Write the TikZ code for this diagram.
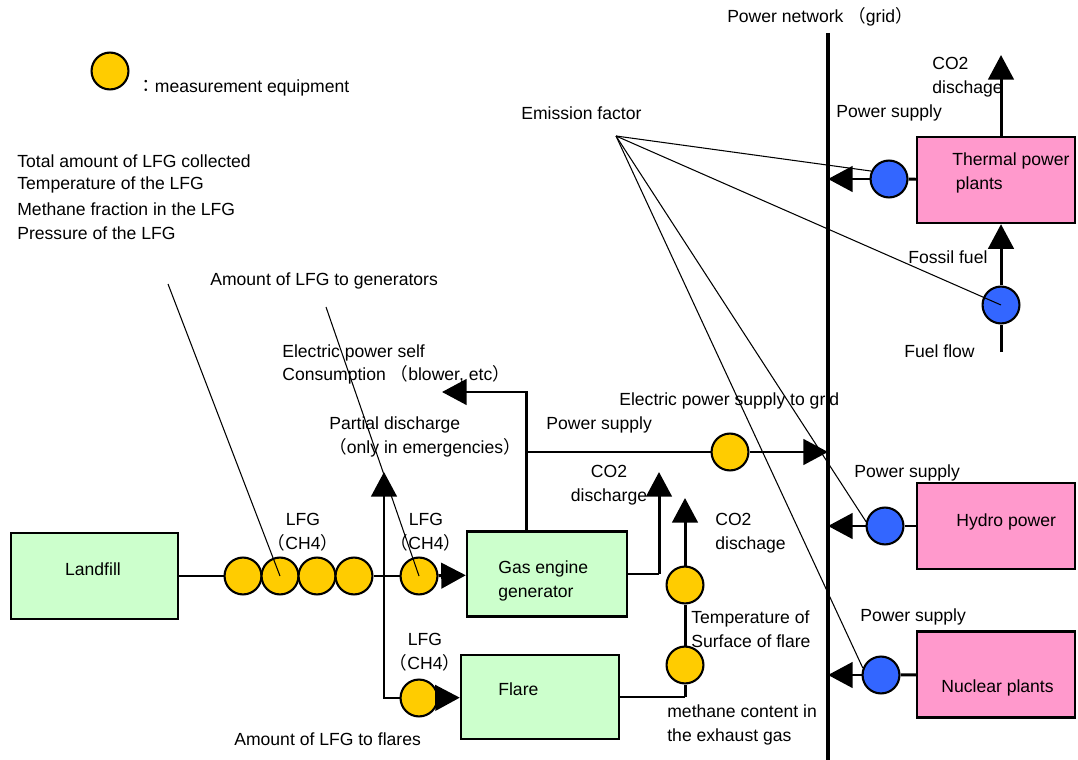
\documentclass[tikz,border=0pt]{standalone}
\usepackage{fontspec}
\setmainfont{Liberation Sans}
\newfontfamily\jpfont{Noto Sans CJK JP}
\usetikzlibrary{arrows.meta,calc}
\definecolor{meteryellow}{HTML}{FFCC00}
\definecolor{meterblue}{HTML}{3366FF}
\definecolor{lfggreen}{HTML}{CCFFCC}
\definecolor{plantpink}{HTML}{FF99CC}
\newcommand{\lpar}{{\jpfont （}}
\newcommand{\rpar}{{\jpfont ）}}
\tikzset{
  pipe/.style={line width=1.7pt},
  flow/.style={line width=1.7pt,-{Triangle[length=14pt,width=14.5pt]}},
  thin line/.style={line width=0.6pt},
  meas/.style={circle,draw,line width=1.2pt,fill=meteryellow,minimum size=21pt,inner sep=0pt},
  bmeas/.style={meas,fill=meterblue},
  sitebox/.style={draw,line width=1.4pt,fill=lfggreen,inner sep=0pt},
  plantbox/.style={sitebox,fill=plantpink,minimum width=3.16cm,minimum height=1.72cm},
  lbl/.style={anchor=west,align=left,inner sep=0pt,font=\fontsize{10}{13.6}\selectfont},
  clbl/.style={lbl,anchor=center,align=center}
}

\begin{document}
\begin{tikzpicture}[x=0.02cm,y=-0.02cm]
	\useasboundingbox (0,0) rectangle (1078,760);
	% legend and notes
	\node[meas] (key) at (110,71) {};
	\node[lbl] (keytext) at (137,88) {{\jpfont ：}measurement equipment};
	\foreach \t [count=\i] in {Total amount of LFG collected, Temperature of the LFG, Methane fraction in the LFG, Pressure of the LFG}
	{\node[lbl] (item\i) at (17,137+24*\i) {\t};}
	\node[lbl] (togen) at (210,281) {Amount of LFG to generators};
	\node[lbl] (tofl) at (234,739) {Amount of LFG to flares};
	\node[lbl] (selfc) at (282,364.5) {Electric power self\\Consumption \lpar blower, etc\rpar};
	\node[lbl] (partial) at (329,437) {Partial discharge\\\lpar only in emergencies\rpar};
	% landfill side
	\node[sitebox,minimum width=3.34cm,minimum height=1.72cm] (lf) at (94.5,576) {};
	\node[clbl] (lftext) at (93,569) {Landfill};
	\node[sitebox,minimum width=3.2cm,minimum height=1.7cm] (gas) at (547,574) {};
	\node[lbl] (gastext) at (498,581) {Gas engine\\generator};
	\node[sitebox,minimum width=3.16cm,minimum height=1.68cm] (fl) at (540,697) {};
	\node[lbl] (fltext) at (498,689) {Flare};
	\foreach \x [count=\i] in {243,280,317,354}
	{\node[meas] (m\i) at (\x,576) {};}
	\node[meas] (m5) at (419,576) {};
	\node[meas] (m6) at (419,698) {};
	\node[meas] (m7) at (730,452) {};
	\node[meas] (m8) at (685,585) {};
	\node[meas] (m9) at (685,665) {};
	\node[clbl] (lfg1) at (303,532) {LFG\\\lpar CH4\rpar};
	\node[clbl] (lfg2) at (426,532) {LFG\\\lpar CH4\rpar};
	\node[clbl] (lfg3) at (425,652) {LFG\\\lpar CH4\rpar};
	\coordinate (pd) at (384,472);
	\coordinate (sv) at (526,392);
	\coordinate (sc) at (442,392);
	\coordinate (ps) at (526,452);
	\coordinate (gc1) at (659,574);
	\coordinate (gc2) at (659,472);
	\coordinate (fc) at (685,697);
	\coordinate (fx) at (685,498);
	\draw[pipe] (lf) -- (m1);
	\draw[pipe] (m4) -- (m5);
	\draw[flow] (m5) -- (gas);
	\draw[flow] (m6.west) -| (pd);
	\draw[flow] (m6) -- (fl);
	\draw[flow] (gas.north -| sv) -- (sv) -- (sc);
	\draw[pipe] (ps) -- (m7);
	\draw[thin line] (gas.east) -- (gc1);
	\draw[flow] (gc1) -- (gc2);
	\draw[thin line] (fl.east) -- (fc);
	\draw[pipe] (fc) -- (m9);
	\draw[pipe] (m9) -- (m8);
	\draw[flow] (m8) -- (fx);
	\node[lbl] (pstext) at (546,425) {Power supply};
	\node[lbl] (togrid) at (619,401) {Electric power supply to grid};
	\node[clbl] (co2a) at (609,485) {CO2\\discharge};
	\node[lbl] (co2b) at (715,533) {CO2\\dischage};
	\node[lbl] (temp) at (691,629) {Temperature of\\Surface of flare};
	\node[lbl] (meth) at (667,725) {methane content in\\the exhaust gas};
	% grid
	\coordinate (gt) at (828,33);
	\coordinate (gb) at (828,760);
	\draw[line width=2.3pt] (gt) -- (gb);
	\node[clbl] (gridtext) at (820,17) {Power network \lpar grid\rpar};
	\draw[flow] (m7) -- (m7 -| gt);
	% power plants
	\node[plantbox] (th) at (996,180) {};
	\node[plantbox] (hy) at (996,526) {};
	\node[plantbox] (nu) at (996,674.5) {};
	\node[lbl] (thtext) at (952,173) {Thermal power\\\hspace{2pt}plants};
	\node[lbl] (hytext) at (956,522) {Hydro power};
	\node[lbl] (nutext) at (941,688) {Nuclear plants};
	\node[bmeas] (b1) at (889,179) {};
	\node[bmeas] (b2) at (1001,305) {};
	\node[bmeas] (b3) at (885,526) {};
	\node[bmeas] (b4) at (881,675) {};
	\coordinate (tc) at (1001,55);
	\coordinate (fb) at (1001,352);
	\draw[pipe] (b1) -- (th);
	\draw[pipe] (b3) -- (hy);
	\draw[pipe] (b4) -- (nu);
	\foreach \b in {b1,b3,b4}
	{\draw[flow] (\b) -- (\b -| gt);}
	\draw[flow] (b2 |- th.north) -- (tc);
	\draw[pipe] (fb) -- (b2);
	\draw[flow] (b2) -- (b2 |- th.south);
	\node[lbl] (ps1) at (836,113) {Power supply};
	\node[lbl] (ps2) at (854,473) {Power supply};
	\node[lbl] (ps3) at (860,617) {Power supply};
	\node[lbl] (co2c) at (932,77) {CO2\\dischage};
	\node[lbl] (fossil) at (908,257) {Fossil fuel};
	\node[lbl] (fuel) at (904,351) {Fuel flow};
	\node[lbl] (eftext) at (521,113) {Emission factor};
	% pointer lines
	\coordinate (ef) at (616,136);
	\coordinate (p1) at (168,284);
	\coordinate (p2) at (326,307);
	\foreach \t in {b1.156,b2.center,b3.167,b4.159}
	{\draw[thin line] (ef) -- (\t);}
	\draw[thin line] (p1) -- (m2.center);
	\draw[thin line] (p2) -- (m5.center);
\end{tikzpicture}
\end{document}
